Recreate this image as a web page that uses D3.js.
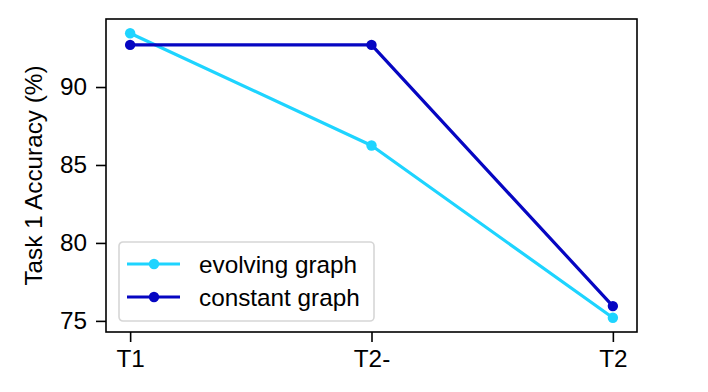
<!DOCTYPE html>
<html>
<head>
<meta charset="utf-8">
<script src="https://cdn.jsdelivr.net/npm/d3@7"></script>
<style>
  body { margin: 0; background: #fff; }
  svg { font-family: "Liberation Sans", Arial, sans-serif; }
</style>
</head>
<body>
<div id="chart"></div>
<script>
// data
var stages = ["T1", "T2-", "T2"];
var evolving = [93.45, 86.25, 75.2];
var constant = [92.7, 92.7, 75.95];
var yTicks = [75, 80, 85, 90];
var seriesNames = ["evolving graph", "constant graph"];
var seriesColors = ["#1ed4ff", "#0606c2"];

var W = 708, H = 392;
var margin = {top: 19, right: 71, bottom: 60, left: 106};
var width = W - margin.left - margin.right;
var height = H - margin.top - margin.bottom;
var fs = 24.3;

var svg = d3.select("#chart").append("svg")
    .attr("width", W)
    .attr("height", H);

var g = svg.append("g")
    .attr("transform", "translate(" + margin.left + "," + margin.top + ")");

// x as linear index with matplotlib style margins
var x = d3.scaleLinear()
    .domain([-0.1, stages.length - 1 + 0.1])
    .range([0, width]);

var allVals = evolving.concat(constant);
var ymin = d3.min(allVals), ymax = d3.max(allVals);
var pad = (ymax - ymin) * 0.05;
var y = d3.scaleLinear()
    .domain([ymin - pad, ymax + pad])
    .range([height, 0]);

// axes
var xAxis = g.append("g")
    .attr("transform", "translate(0," + height + ")")
    .call(d3.axisBottom(x)
        .tickValues(d3.range(stages.length))
        .tickFormat(function(i) { return stages[i]; })
        .tickSize(10).tickPadding(7));

var yAxis = g.append("g")
    .call(d3.axisLeft(y)
        .tickValues(yTicks)
        .tickSize(10).tickPadding(9));

[xAxis, yAxis].forEach(function(a) {
    a.select(".domain").remove();
    a.selectAll("line").attr("stroke", "#000").attr("stroke-width", 1.6);
    a.selectAll("text").attr("fill", "#000").attr("font-size", fs);
});
xAxis.selectAll("text").attr("dy", "0.75em");

// frame
g.append("rect")
    .attr("width", width)
    .attr("height", height)
    .attr("fill", "none")
    .attr("stroke", "#000")
    .attr("stroke-width", 1.6);

// y label
svg.append("text")
    .attr("transform", "rotate(-90)")
    .attr("x", -(margin.top + height / 2))
    .attr("y", 42)
    .attr("text-anchor", "middle")
    .attr("font-size", fs)
    .attr("fill", "#000")
    .text("Task 1 Accuracy (%)");

var line = d3.line()
    .x(function(d, i) { return x(i); })
    .y(function(d) { return y(d); });

[evolving, constant].forEach(function(s, k) {
    g.append("path")
        .datum(s)
        .attr("fill", "none")
        .attr("stroke", seriesColors[k])
        .attr("stroke-width", 3.2)
        .attr("stroke-linejoin", "round")
        .attr("d", line);
    g.selectAll(".pt" + k)
        .data(s)
        .enter().append("circle")
        .attr("cx", function(d, i) { return x(i); })
        .attr("cy", function(d) { return y(d); })
        .attr("r", 5.2)
        .attr("fill", seriesColors[k]);
});

// legend
var lg = g.append("g").attr("transform", "translate(13,223)");
lg.append("rect")
    .attr("width", 255)
    .attr("height", 79)
    .attr("rx", 4)
    .attr("fill", "#fff")
    .attr("fill-opacity", 0.8)
    .attr("stroke", "#d6d6d6")
    .attr("stroke-width", 1.6);

var items = lg.selectAll(".item")
    .data(seriesNames)
    .enter().append("g")
    .attr("transform", function(d, i) { return "translate(0," + (22 + i * 33) + ")"; });

items.append("line")
    .attr("x1", 8).attr("x2", 61)
    .attr("stroke", function(d, i) { return seriesColors[i]; })
    .attr("stroke-width", 3.2);
items.append("circle")
    .attr("cx", 35).attr("r", 5.2)
    .attr("fill", function(d, i) { return seriesColors[i]; });
items.append("text")
    .attr("x", 80)
    .attr("dy", "0.35em")
    .attr("font-size", fs)
    .attr("fill", "#000")
    .text(function(d) { return d; });
</script>
</body>
</html>
